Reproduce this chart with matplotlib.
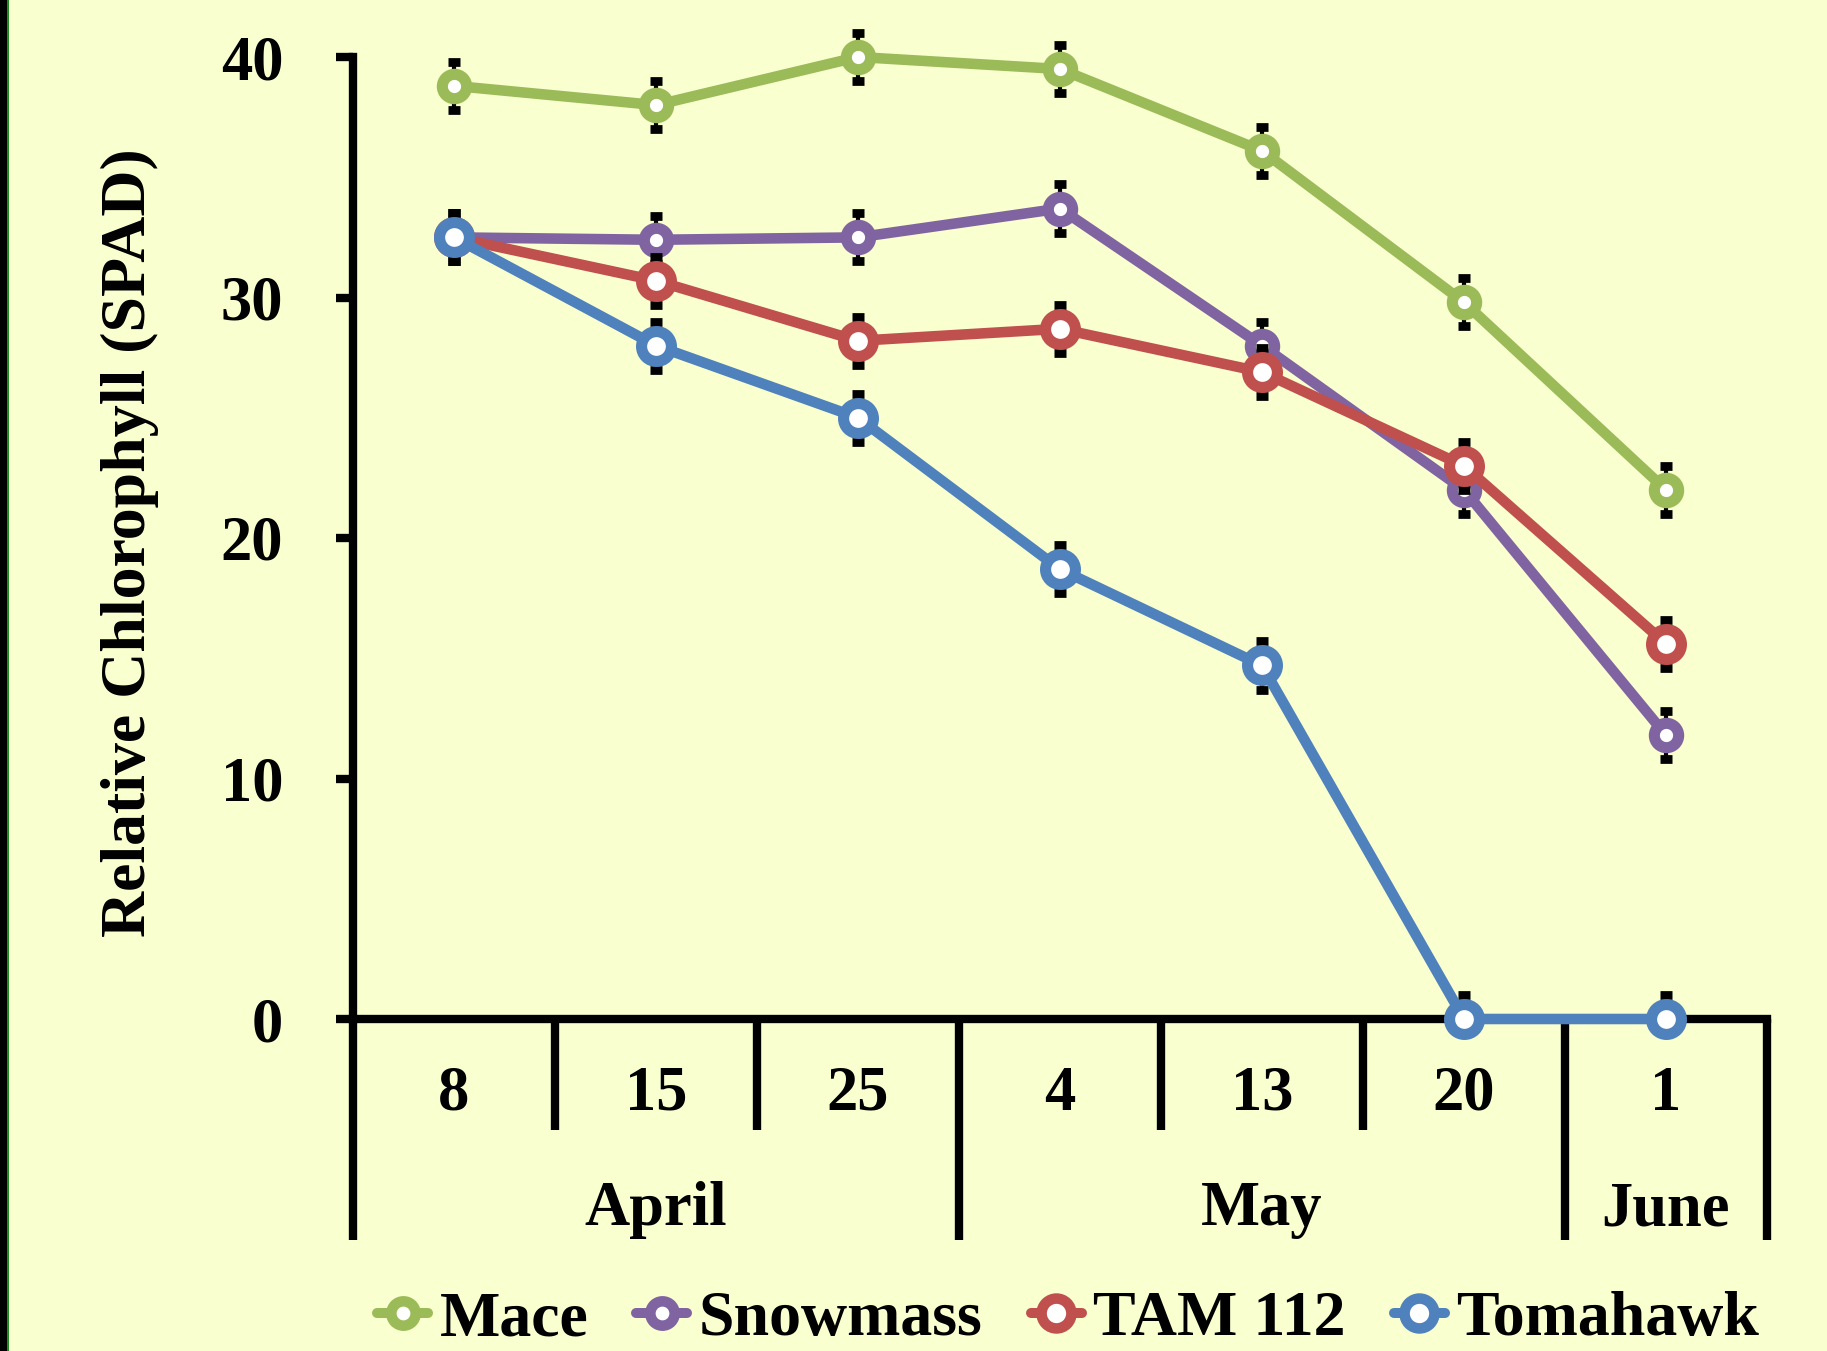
import numpy as np
import matplotlib
matplotlib.use("Agg")
import matplotlib.pyplot as plt
from matplotlib.lines import Line2D
from matplotlib.patches import Rectangle

# ---------------- data ----------------
days = ["8", "15", "25", "4", "13", "20", "1"]
months = ["April", "May", "June"]
month_counts = [3, 3, 1]

series_names = ["Mace", "Snowmass", "TAM 112", "Tomahawk"]
mace = [38.8, 38.0, 40.0, 39.5, 36.1, 29.8, 22.0]
snowmass = [32.5, 32.4, 32.5, 33.7, 28.0, 22.0, 11.8]
tam112 = [32.5, 30.7, 28.2, 28.7, 26.9, 23.0, 15.6]
tomahawk = [32.5, 28.0, 25.0, 18.7, 14.7, 0.0, 0.0]

mace_err = [1.0, 1.0, 1.0, 1.0, 1.0, 1.0, 1.0]
snowmass_err = [1.0, 1.0, 1.0, 1.0, 1.0, 1.0, 1.0]
tam112_err = [1.0, 1.0, 1.0, 1.0, 1.0, 1.0, 1.0]
tomahawk_err = [1.0, 1.0, 1.0, 1.0, 1.0, 1.0, 1.0]

yticks = [0, 10, 20, 30, 40]
ylabel = "Relative Chlorophyll (SPAD)"

# ---------------- style ----------------
BG = "#FAFFCF"
colors = ["#9BBB59", "#8064A2", "#C0504D", "#4F81BD"]
msizes = [17.5, 17.5, 21.5, 21.5]
FONT = "Liberation Serif"
FS = 45
FS_BIG = 46

plt.rcParams["font.family"] = [FONT, "DejaVu Serif"]
plt.rcParams["font.weight"] = "bold"

fig = plt.figure(figsize=(18.27, 13.51), dpi=100, facecolor=BG)
W, H = 1827.0, 1351.0
ax = fig.add_axes([353 / W, (H - 1019) / H, (1767 - 353) / W, 962 / H])
ax.set_facecolor(BG)

x = np.arange(len(days))
all_vals = [mace, snowmass, tam112, tomahawk]
all_errs = [mace_err, snowmass_err, tam112_err, tomahawk_err]

for i, (vals, errs) in enumerate(zip(all_vals, all_errs)):
    v = np.array(vals)
    e = np.array(errs)
    lower = np.minimum(e, v)  # error bars do not go below the axis
    ax.errorbar(x, v, yerr=[lower, e], fmt="none", ecolor="black",
                elinewidth=3.0, capsize=4.6, capthick=6.3,
                zorder=10 + 3 * i, clip_on=False)
    ax.plot(x, v, color=colors[i], lw=7.6, marker="o", ms=msizes[i],
            mfc="white", mec=colors[i], mew=8.0, zorder=11 + 3 * i,
            clip_on=False, solid_joinstyle="round")

ax.set_xlim(-0.5, len(days) - 0.5)
ax.set_ylim(0, 40)

for s in ["top", "right"]:
    ax.spines[s].set_visible(False)
for s in ["left", "bottom"]:
    ax.spines[s].set_linewidth(6)
    ax.spines[s].set_zorder(5)

ax.set_yticks(yticks)
ax.set_yticklabels([str(t) for t in yticks], fontsize=FS, fontweight="bold")
ax.tick_params(axis="y", direction="out", length=12.2, width=6, pad=38)
ax.set_xticks([])

# category axis (days + months)
trans = ax.get_xaxis_transform()
for i, d in enumerate(days):
    ax.text(i, -0.0945, d, transform=trans, ha="center", va="baseline",
            fontsize=FS, fontweight="bold")

bounds = np.concatenate([[0], np.cumsum(month_counts)])
month_edges = set(bounds.tolist())
for k in range(len(days) + 1):
    y_end = -0.2297 if k in month_edges else -0.1154
    ax.plot([k - 0.5, k - 0.5], [0, y_end], transform=trans, color="black",
            lw=6, clip_on=False, solid_capstyle="butt", zorder=5)

for m, a, b in zip(months, bounds[:-1], bounds[1:]):
    ax.text((a + b - 1) / 2.0, -0.2145, m, transform=trans, ha="center",
            va="baseline", fontsize=FS, fontweight="bold")

# y label
fig.text(145 / W, (H - 543) / H, ylabel, rotation=90, rotation_mode="anchor",
         ha="center", va="baseline", fontsize=FS_BIG, fontweight="bold")

# legend (same markers as the plot, round line ends)
handles = [Line2D([0], [0], color=c, lw=7.2, marker="o", ms=m, mfc="white",
                  mec=c, mew=7.6, solid_capstyle="round")
           for c, m in zip(colors, msizes)]
fig.legend(handles, series_names, loc="center", bbox_to_anchor=(1068 / W, (H - 1320) / H),
           ncol=4, frameon=False, prop={"family": FONT, "weight": "bold", "size": FS_BIG},
           handlelength=0.8, handletextpad=0.18, columnspacing=0.75,
           borderpad=0, borderaxespad=0)

# left border strip
fig.patches.append(Rectangle((0, 0), 7 / W, 1, transform=fig.transFigure,
                             facecolor="black", edgecolor="none", zorder=0))
fig.patches.append(Rectangle((7 / W, 0), 1.5 / W, 1, transform=fig.transFigure,
                             facecolor="#1E8C1E", edgecolor="none", zorder=0))

fig.savefig("out.png", dpi=100, facecolor=BG)
